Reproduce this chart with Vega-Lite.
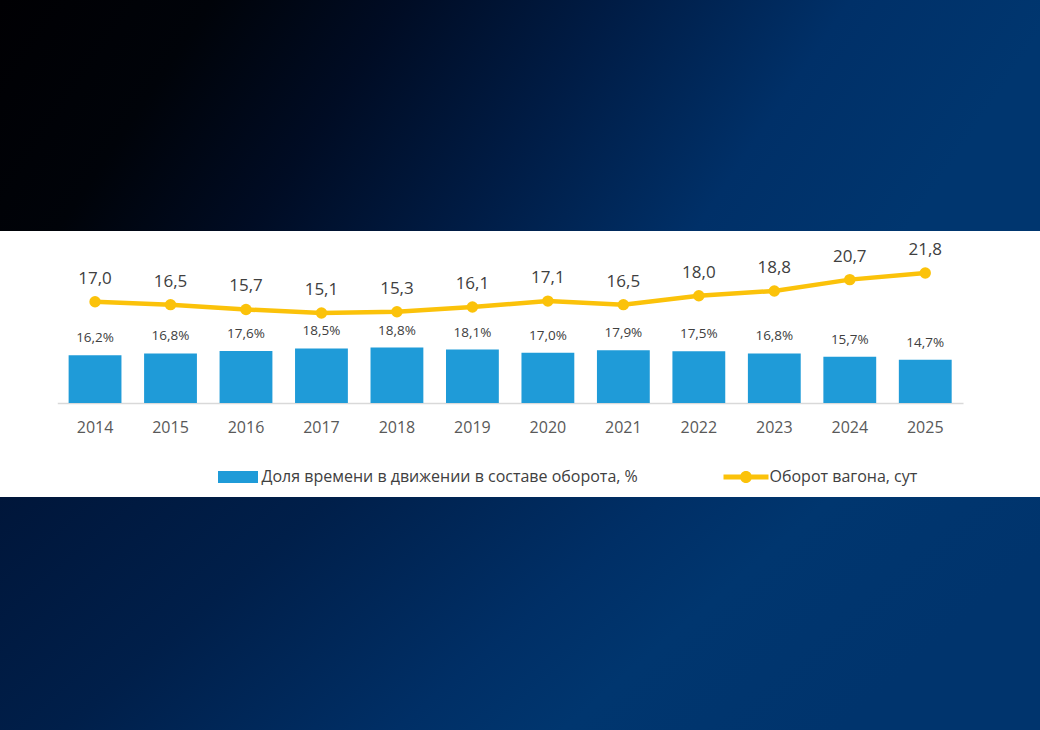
{
  "$schema": "https://vega.github.io/schema/vega-lite/v6.json",
  "padding": 0,
  "background": "#001d45",
  "spacing": 0,
  "bounds": "flush",
  "config": {
    "view": {"stroke": null},
    "font": "Open Sans",
    "locale": {"number": {"decimal": ",", "thousands": " ", "grouping": [3], "currency": ["", ""]}}
  },
  "vconcat": [
    {
      "width": 1040,
      "height": 231,
      "data": {"values": [{"band": "top"}]},
      "mark": {
        "type": "rect",
        "color": {
          "gradient": "linear", "x1": 0, "y1": 0, "x2": 1, "y2": 0.15,
          "stops": [
            {"offset": 0, "color": "#000003"},
            {"offset": 0.2, "color": "#000309"},
            {"offset": 0.38, "color": "#000c24"},
            {"offset": 0.58, "color": "#001c45"},
            {"offset": 0.8, "color": "#003068"},
            {"offset": 1, "color": "#00366f"}
          ]
        }
      },
      "encoding": {"x": {"value": 0}, "x2": {"value": "width"}, "y": {"value": 0}, "y2": {"value": "height"}}
    },
    {
      "width": 1040,
      "height": 266,
      "view": {"fill": "#ffffff", "stroke": null},
      "data": {
        "values": [
          {"year": "2014", "share": 0.162, "turnover": 17.0},
          {"year": "2015", "share": 0.168, "turnover": 16.5},
          {"year": "2016", "share": 0.176, "turnover": 15.7},
          {"year": "2017", "share": 0.185, "turnover": 15.1},
          {"year": "2018", "share": 0.188, "turnover": 15.3},
          {"year": "2019", "share": 0.181, "turnover": 16.1},
          {"year": "2020", "share": 0.170, "turnover": 17.1},
          {"year": "2021", "share": 0.179, "turnover": 16.5},
          {"year": "2022", "share": 0.175, "turnover": 18.0},
          {"year": "2023", "share": 0.168, "turnover": 18.8},
          {"year": "2024", "share": 0.157, "turnover": 20.7},
          {"year": "2025", "share": 0.147, "turnover": 21.8}
        ]
      },
      "encoding": {
        "x": {
          "field": "year",
          "type": "ordinal",
          "scale": {"range": [57.3, 963], "paddingInner": 0.3, "paddingOuter": 0.15},
          "axis": {
            "title": null,
            "orient": "bottom",
            "offset": -94,
            "labelAngle": 0,
            "ticks": false,
            "tickSize": 0,
            "labelPadding": 24,
            "labelBaseline": "middle",
            "labelFontSize": 16,
            "labelColor": "#595959",
            "labelFont": "Open Sans",
            "domainColor": "#d9d9d9",
            "domainWidth": 1.5,
            "grid": false
          }
        }
      },
      "layer": [
        {
          "encoding": {
            "y": {"field": "share", "type": "quantitative", "scale": {"domain": [0, 0.505], "range": [172, 23]}, "axis": null}
          },
          "layer": [
            {
              "mark": {"type": "bar"},
              "encoding": {
                "color": {
                  "datum": "Доля времени в движении в составе оборота, %",
                  "scale": {
                    "domain": ["Доля времени в движении в составе оборота, %", "Оборот вагона, сут"],
                    "range": ["#1f9bd8", "#fbc20a"]
                  },
                  "legend": {
                    "orient": "none",
                    "legendX": 218,
                    "legendY": 457,
                    "direction": "horizontal",
                    "title": null,
                    "padding": 0,
                    "labelFont": "Open Sans",
                    "labelFontSize": 16,
                    "labelColor": "#404040",
                    "labelLimit": 800,
                    "labelOffset": 3.5,
                    "symbolSize": 1600,
                    "columnPadding": 85,
                    "symbolStrokeWidth": 0,
                    "encode": {
                      "symbols": {
                        "update": {
                          "shape": {"signal": "datum.value === 'Оборот вагона, сут' ? 'M-1.125,-0.125H1.125V0.125H-1.125Z M0.3,0A0.3,0.3 0 1,1 -0.3,0A0.3,0.3 0 1,1 0.3,0Z' : 'M-1,-0.3H1V0.3H-1Z'"},
                          "fill": {"signal": "datum.value === 'Оборот вагона, сут' ? '#fbc20a' : '#1f9bd8'"},
                          "stroke": {"value": "transparent"},
                          "opacity": {"value": 1}
                        }
                      }
                    }
                  }
                }
              }
            },
            {
              "mark": {"type": "text", "dy": -17, "baseline": "middle", "fontSize": 13.5, "color": "#404040"},
              "encoding": {"text": {"field": "share", "type": "quantitative", "format": ".1%"}}
            }
          ]
        },
        {
          "encoding": {
            "y": {"field": "turnover", "type": "quantitative", "scale": {"domain": [0, 25], "range": [172, 23]}, "axis": null}
          },
          "layer": [
            {
              "mark": {"type": "line", "strokeWidth": 4.5, "point": {"size": 130, "filled": true}},
              "encoding": {"color": {"datum": "Оборот вагона, сут"}}
            },
            {
              "mark": {"type": "text", "dy": -23, "baseline": "middle", "fontSize": 17, "color": "#404040"},
              "encoding": {"text": {"field": "turnover", "type": "quantitative", "format": ".1f"}}
            }
          ]
        }
      ],
      "resolve": {"scale": {"y": "independent"}}
    },
    {
      "width": 1040,
      "height": 233,
      "data": {"values": [{"band": "bottom"}]},
      "mark": {
        "type": "rect",
        "color": {
          "gradient": "linear", "x1": 0, "y1": 0, "x2": 1, "y2": 0.26,
          "stops": [
            {"offset": 0, "color": "#00163a"},
            {"offset": 0.3, "color": "#001f4a"},
            {"offset": 0.6, "color": "#002f66"},
            {"offset": 0.75, "color": "#00366f"},
            {"offset": 1, "color": "#00346d"}
          ]
        }
      },
      "encoding": {"x": {"value": 0}, "x2": {"value": "width"}, "y": {"value": 0}, "y2": {"value": "height"}}
    }
  ]
}
